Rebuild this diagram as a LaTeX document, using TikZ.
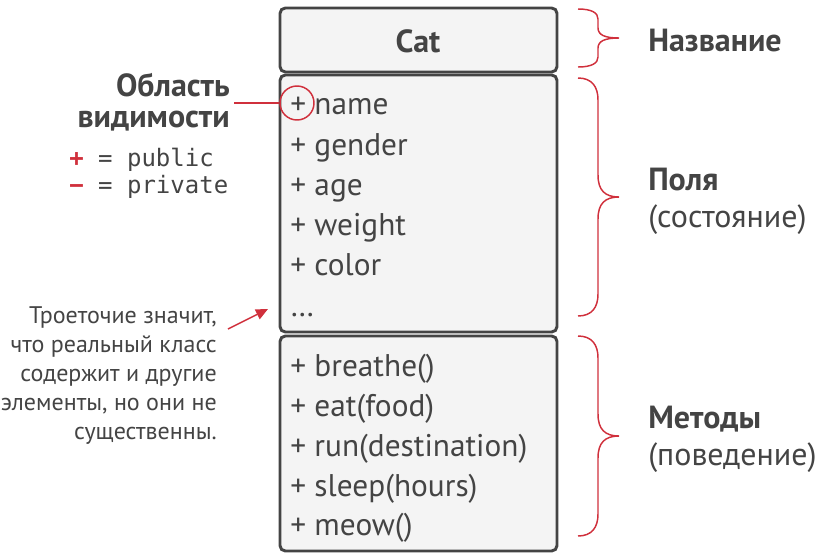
\documentclass[tikz,border=0pt]{standalone}
\usepackage{fontspec}
\setmainfont{PT Sans}
\setmonofont{DejaVu Sans Mono}
\usetikzlibrary{positioning,arrows.meta}

\definecolor{ink}{HTML}{444444}
\definecolor{accent}{HTML}{D0303C}
\definecolor{panel}{HTML}{F4F4F4}

% curly brace opening to the right: x, top, bottom, bend
\newcommand{\sidebrace}[4]{%
  \draw[accent, line width=1.1pt]
    (#1,#2) .. controls ({#1+14},#2) and ({#1+20},{#2+0.4*#4}) .. ({#1+20},{#2+#4})
    -- ({#1+20},{(#2+#3)/2-#4})
    .. controls ({#1+20},{(#2+#3)/2-0.3*#4}) and ({#1+27},{(#2+#3)/2}) .. ({#1+41},{(#2+#3)/2})
    .. controls ({#1+27},{(#2+#3)/2}) and ({#1+20},{(#2+#3)/2+0.3*#4}) .. ({#1+20},{(#2+#3)/2+#4})
    -- ({#1+20},{#3-#4})
    .. controls ({#1+20},{#3-0.4*#4}) and ({#1+14},#3) .. (#1,#3);}

\begin{document}
\begin{tikzpicture}[x=0.75pt, y=-0.75pt,
    box/.style={draw=ink, line width=2.2pt, fill=panel, rounded corners=4pt},
    member/.style={anchor=base west, text=ink, inner sep=0pt, font=\fontsize{23.5}{24}\selectfont},
    title/.style={text=ink, font=\bfseries\fontsize{24}{23.5}\selectfont},
    side/.style={anchor=west, text=ink, align=left, inner sep=0pt, font=\fontsize{24}{28}\selectfont},
    note/.style={anchor=east, text=ink, align=right, inner sep=0pt, font=\fontsize{18}{21.75}\selectfont},
    redline/.style={accent, line width=1.1pt}]

\useasboundingbox (0,0) rectangle (816,554);

% class Cat
\draw[box] (280,8) rectangle (557,72);
\draw[box] (280,75) rectangle (557,332);
\draw[box] (280,336) rectangle (557,551);
\node[title] (cls) at (418,41) {Cat};

\node[member] (name) at (290,114) {+ name};
\node[member] (gender) at (290,155) {+ gender};
\node[member] (age) at (290,195) {+ age};
\node[member] (weight) at (290,235) {+ weight};
\node[member] (color) at (290,275) {+ color};
\node[member] (more) at (290,316) {\dots};

\node[member] (breathe) at (290,376) {+ breathe()};
\node[member] (eat) at (290,416) {+ eat(food)};
\node[member] (run) at (290,456) {+ run(destination)};
\node[member] (sleep) at (290,496) {+ sleep(hours)};
\node[member] (meow) at (290,535) {+ meow()};

% visibility
\node[draw=accent, line width=1.1pt, circle, minimum size=25.5pt] (vis) at (297,103) {};
\node[title, anchor=east, align=right, inner sep=3pt] (scope) at (234,102) {Область\\видимости};
\draw[redline] (scope.east |- vis.west) -- (vis.west);

\node[anchor=west, text=ink, inner sep=0pt, font=\ttfamily\fontsize{18}{21}\selectfont] (pub) at (69,160)
  {\textcolor{accent}{\bfseries +} = public};
\node[anchor=west, text=ink, inner sep=0pt, font=\ttfamily\fontsize{18}{21}\selectfont] (priv) at (69,187)
  {\textcolor{accent}{\bfseries −} = private};

% note about the dots
\node[note] (ellip) at (217,376) {Троеточие значит,\\что реальный класс\\содержит и другие\\элементы, но они не\\существенны.};
\coordinate (tail) at (228,329);
\coordinate (tip) at (268,309);
\draw[redline, -{Triangle[length=9pt, width=8pt]}] (tail) -- (tip);

% braces
\sidebrace{578}{9}{67}{10}
\sidebrace{578}{78}{316}{22}
\sidebrace{578}{336}{536}{22}

\node[side, font=\bfseries\fontsize{24}{28}\selectfont] (lname) at (648,41) {Название};
\node[side] (lfields) at (648,201) {\textbf{Поля}\\(состояние)};
\node[side] (lmethods) at (648,439) {\textbf{Методы}\\(поведение)};
\end{tikzpicture}
\end{document}
